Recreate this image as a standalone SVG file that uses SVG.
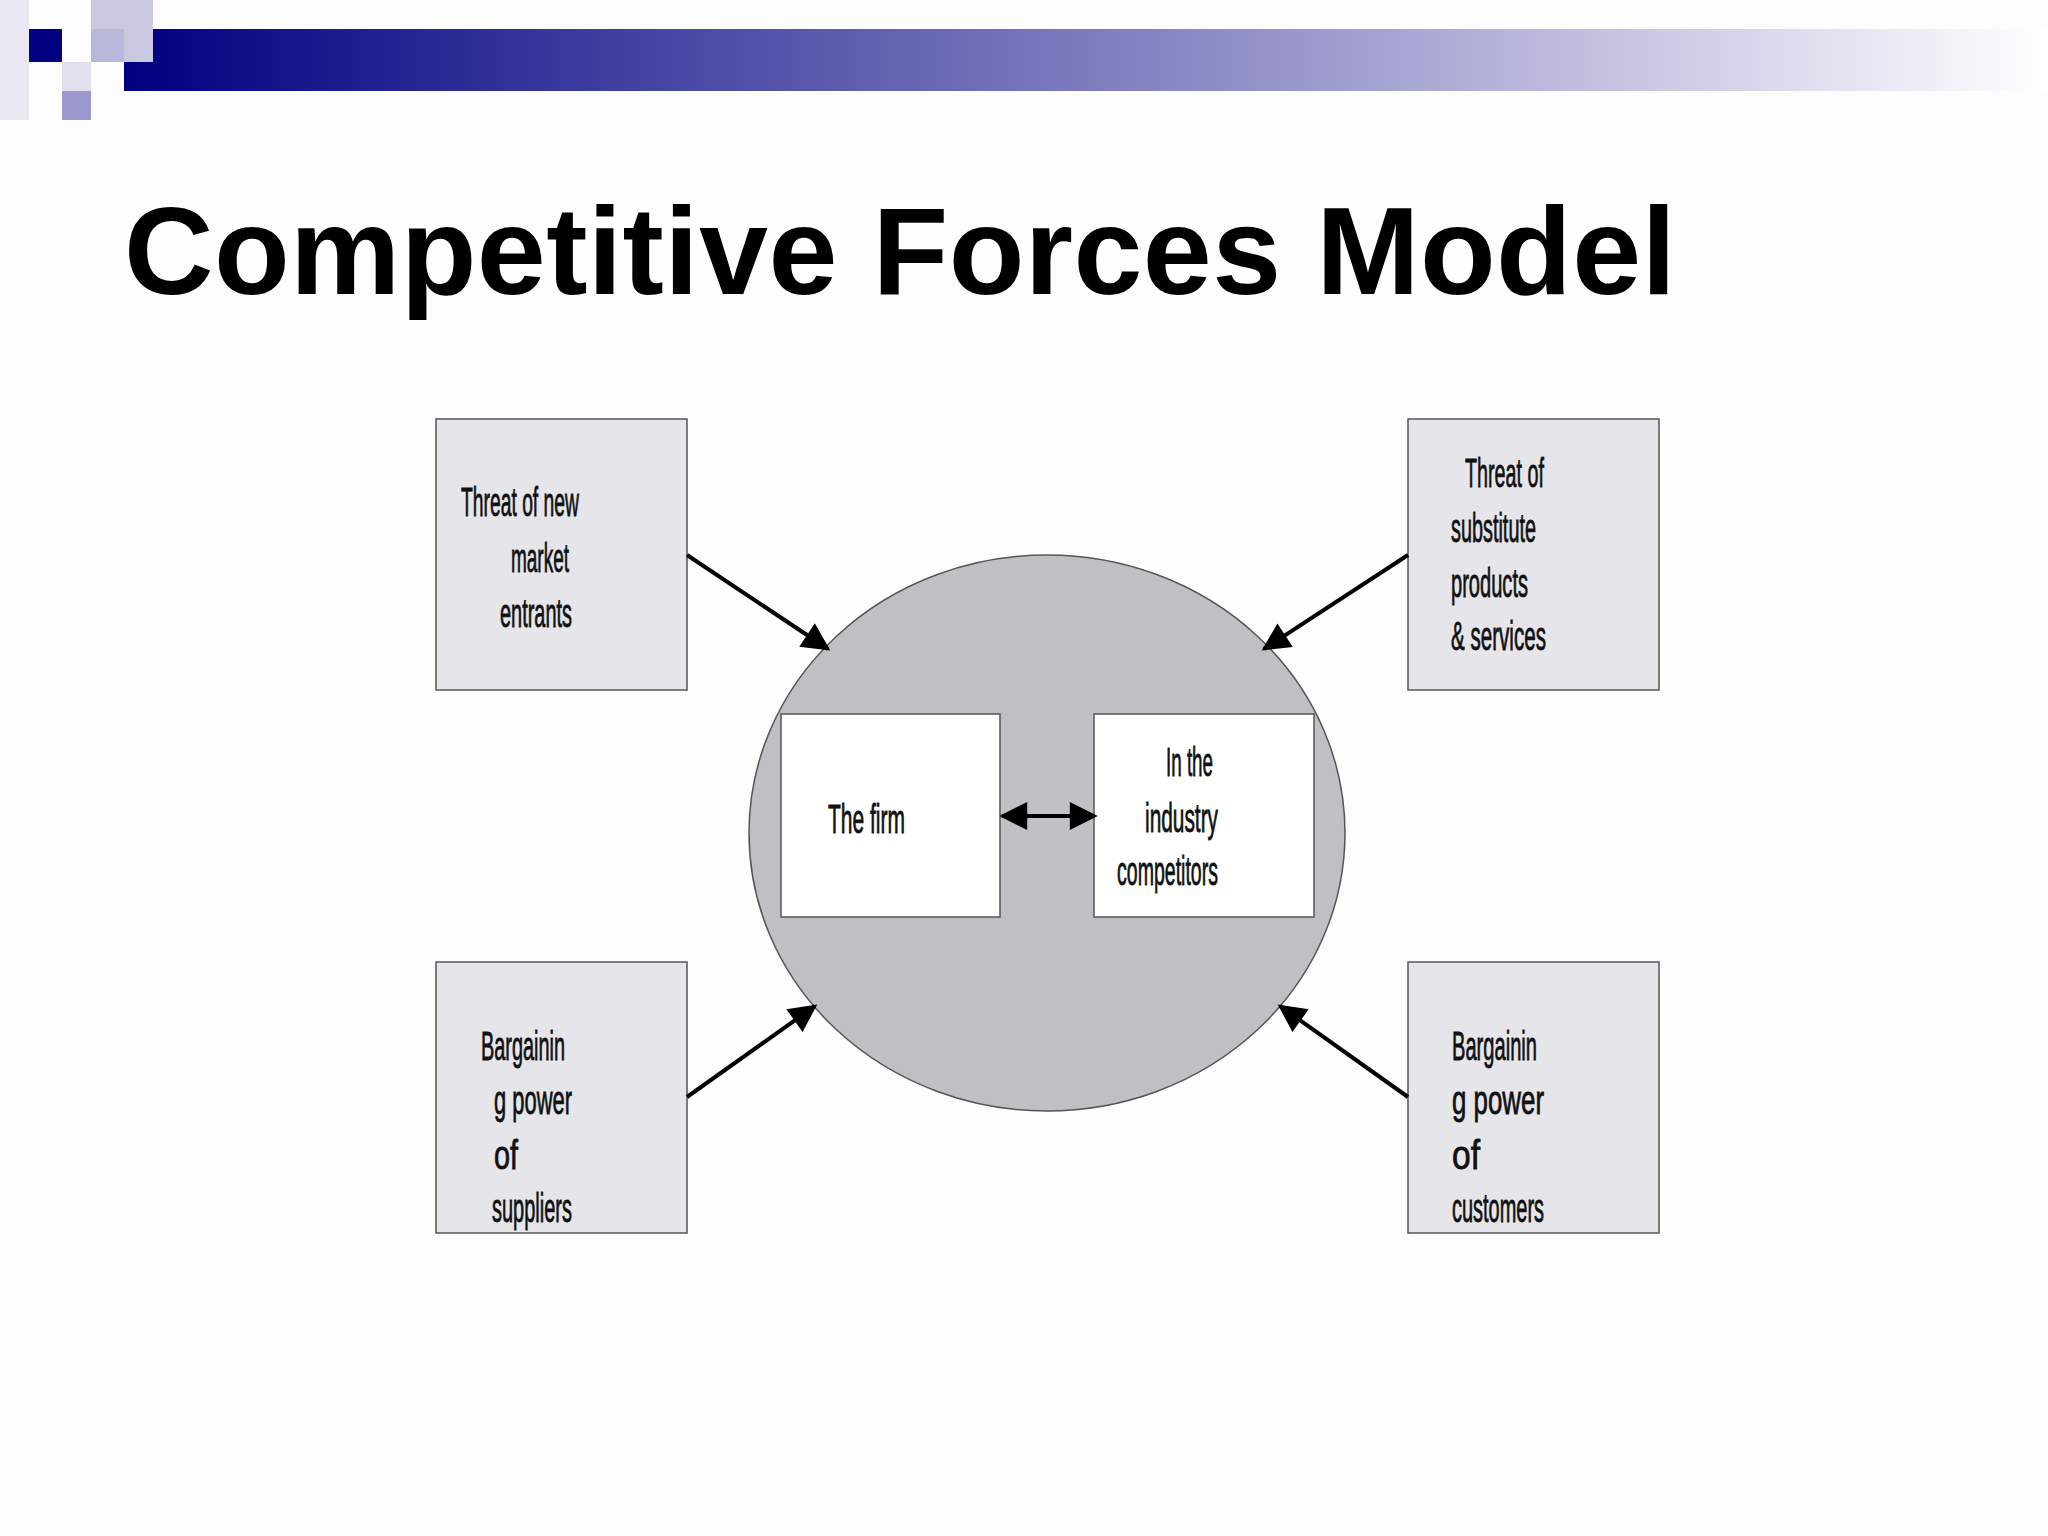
<svg xmlns="http://www.w3.org/2000/svg" width="2048" height="1536" viewBox="0 0 2048 1536">
<defs>
<linearGradient id="bar" x1="0" x2="1" y1="0" y2="0"><stop offset="0" stop-color="#000080"/><stop offset="0.55" stop-color="#8a88c4"/><stop offset="1" stop-color="#ffffff"/></linearGradient>
<marker id="ah" viewBox="0 0 10 10" refX="9" refY="5" markerWidth="8" markerHeight="7" orient="auto-start-reverse"><path d="M0,0L10,5L0,10z" fill="#000"/></marker>
</defs>
<style>
.box{fill:#e6e5ea;stroke:#555;stroke-width:1.5}
.wb{fill:#fff;stroke:#555;stroke-width:1.5}
.t{font-family:"Liberation Sans",Arial,sans-serif;font-size:40px;fill:#111;stroke:#111;stroke-width:0.8}
.c{stroke:#000;stroke-width:4;fill:none;marker-end:url(#ah)}
</style>
<rect width="2048" height="1536" fill="#fdfdfe"/>
<rect x="124" y="29" width="1924" height="62" fill="url(#bar)"/>
<rect x="0" y="0" width="29" height="120" fill="#e8e8f2"/>
<rect x="91" y="0" width="62" height="62" fill="#c8c8e0"/>
<rect x="29" y="29" width="33" height="33" fill="#000080"/>
<rect x="91" y="29" width="33" height="33" fill="#b8b8da"/>
<rect x="62" y="62" width="29" height="29" fill="#e0e0ee"/>
<rect x="62" y="91" width="29" height="29" fill="#9a98cc"/>
<text x="124" y="294" font-family="Liberation Sans,Arial,sans-serif" font-weight="bold" font-size="124" fill="#000" textLength="1552">Competitive Forces Model</text>
<ellipse id="industry" cx="1047" cy="833" rx="298" ry="278" fill="#c0bfc4" stroke="#555" stroke-width="1.5"/>
<g id="entrants"><rect class="box" x="436" y="419" width="251" height="271"/>
<text class="t" x="461" y="516" textLength="118" lengthAdjust="spacingAndGlyphs">Threat of new</text>
<text class="t" x="511" y="572" textLength="58" lengthAdjust="spacingAndGlyphs">market</text>
<text class="t" x="500" y="627" textLength="72" lengthAdjust="spacingAndGlyphs">entrants</text></g>
<g id="substitutes"><rect class="box" x="1408" y="419" width="251" height="271"/>
<text class="t" x="1465" y="487" textLength="79" lengthAdjust="spacingAndGlyphs">Threat of</text>
<text class="t" x="1451" y="542" textLength="85" lengthAdjust="spacingAndGlyphs">substitute</text>
<text class="t" x="1451" y="597" textLength="77" lengthAdjust="spacingAndGlyphs">products</text>
<text class="t" x="1451" y="650" textLength="95" lengthAdjust="spacingAndGlyphs">&amp; services</text></g>
<g id="suppliers"><rect class="box" x="436" y="962" width="251" height="271"/>
<text class="t" x="481" y="1060" textLength="84" lengthAdjust="spacingAndGlyphs">Bargainin</text>
<text class="t" x="494" y="1114" textLength="78" lengthAdjust="spacingAndGlyphs">g power</text>
<text class="t" x="494" y="1169" textLength="24" lengthAdjust="spacingAndGlyphs">of</text>
<text class="t" x="492" y="1222" textLength="80" lengthAdjust="spacingAndGlyphs">suppliers</text></g>
<g id="customers"><rect class="box" x="1408" y="962" width="251" height="271"/>
<text class="t" x="1452" y="1060" textLength="85" lengthAdjust="spacingAndGlyphs">Bargainin</text>
<text class="t" x="1452" y="1114" textLength="92" lengthAdjust="spacingAndGlyphs">g power</text>
<text class="t" x="1452" y="1169" textLength="28" lengthAdjust="spacingAndGlyphs">of</text>
<text class="t" x="1452" y="1222" textLength="92" lengthAdjust="spacingAndGlyphs">customers</text></g>
<g id="firm"><rect class="wb" x="781" y="714" width="219" height="203"/>
<text class="t" x="828" y="833" textLength="77" lengthAdjust="spacingAndGlyphs">The firm</text></g>
<g id="competitors"><rect class="wb" x="1094" y="714" width="220" height="203"/>
<text class="t" x="1166" y="776" textLength="47" lengthAdjust="spacingAndGlyphs">In the</text>
<text class="t" x="1145" y="832" textLength="73" lengthAdjust="spacingAndGlyphs">industry</text>
<text class="t" x="1117" y="885" textLength="101" lengthAdjust="spacingAndGlyphs">competitors</text></g>
<g id="connectors">
<path class="c" d="M687,555L828,649"/>
<path class="c" d="M1408,555L1264,649"/>
<path class="c" d="M687,1097L815,1006"/>
<path class="c" d="M1408,1097L1280,1006"/>
<path class="c" d="M1002,816L1095,816" style="marker-start:url(#ah)"/>
</g>
</svg>
